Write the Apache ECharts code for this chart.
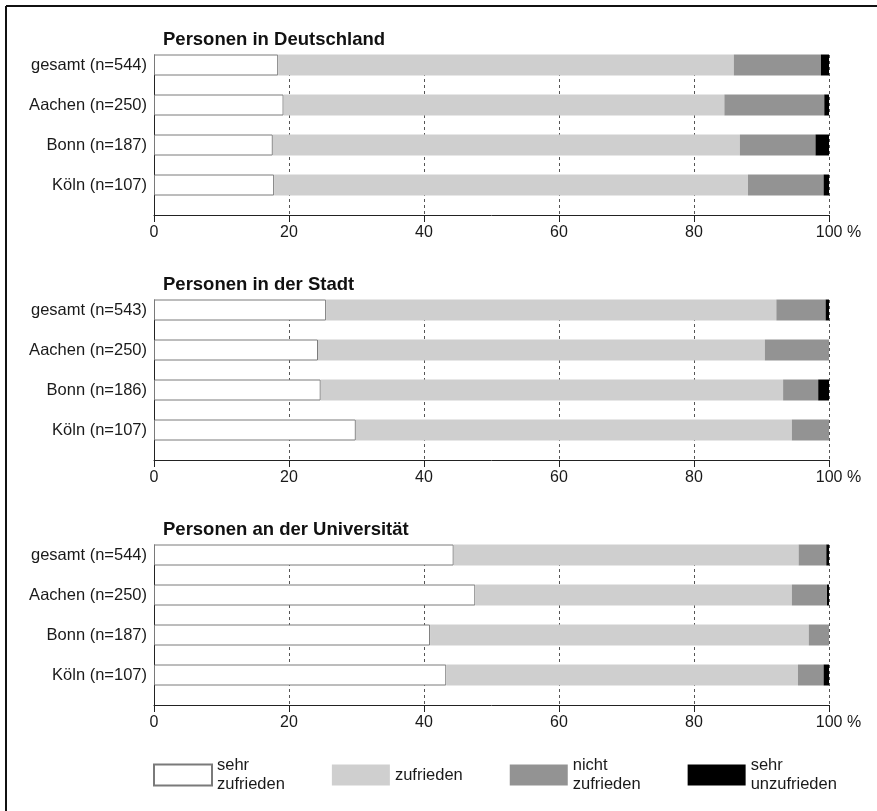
<!DOCTYPE html>
<html>
<head>
<meta charset="utf-8">
<script src="https://cdn.jsdelivr.net/npm/echarts@6/dist/echarts.min.js"></script>
<style>
html,body{margin:0;padding:0;background:#fff;}
#chart{width:877px;height:811px;}
</style>
</head>
<body>
<div id="chart"></div>
<script>
// ---- data ----
const panelTitles = ['Personen in Deutschland', 'Personen in der Stadt', 'Personen an der Universität'];
const levelNames = ['sehr\nzufrieden', 'zufrieden', 'nicht\nzufrieden', 'sehr\nunzufrieden'];
const xTicks = [0, 20, 40, 60, 80, 100];

const catsDeutschland = ['gesamt (n=544)', 'Aachen (n=250)', 'Bonn (n=187)', 'Köln (n=107)'];
const catsStadt = ['gesamt (n=543)', 'Aachen (n=250)', 'Bonn (n=186)', 'Köln (n=107)'];
const catsUni = ['gesamt (n=544)', 'Aachen (n=250)', 'Bonn (n=187)', 'Köln (n=107)'];

const sehrZufriedenDeutschland = [18.4, 19.2, 17.6, 17.8];
const zufriedenDeutschland = [67.5, 65.3, 69.2, 70.2];
const nichtZufriedenDeutschland = [12.9, 14.8, 11.2, 11.2];
const sehrUnzufriedenDeutschland = [1.2, 0.7, 2.0, 0.8];

const sehrZufriedenStadt = [25.5, 24.3, 24.7, 29.9];
const zufriedenStadt = [66.7, 66.2, 68.5, 64.6];
const nichtZufriedenStadt = [7.3, 9.5, 5.2, 5.5];
const sehrUnzufriedenStadt = [0.5, 0, 1.6, 0];

const sehrZufriedenUni = [44.4, 47.6, 40.9, 43.3];
const zufriedenUni = [51.1, 46.9, 56.1, 52.1];
const nichtZufriedenUni = [4.1, 5.2, 3.0, 3.8];
const sehrUnzufriedenUni = [0.4, 0.3, 0, 0.8];

const panels = [
  { cats: catsDeutschland, values: [sehrZufriedenDeutschland, zufriedenDeutschland, nichtZufriedenDeutschland, sehrUnzufriedenDeutschland] },
  { cats: catsStadt, values: [sehrZufriedenStadt, zufriedenStadt, nichtZufriedenStadt, sehrUnzufriedenStadt] },
  { cats: catsUni, values: [sehrZufriedenUni, zufriedenUni, nichtZufriedenUni, sehrUnzufriedenUni] }
];

// ---- styles ----
const fills = ['#ffffff', '#cfcfcf', '#939393', '#000000'];
const FONT = 'Liberation Sans, Arial, sans-serif';
const textColor = '#1a1a1a';
const LEFT = 154, RIGHT = 48, PANEL_TOP = 55, PANEL_STEP = 245, PANEL_H = 160;

const grid = [], xAxis = [], yAxis = [], series = [], title = [];

panels.forEach((p, i) => {
  const T = PANEL_TOP + PANEL_STEP * i;
  grid.push({ left: LEFT, right: RIGHT, top: T, height: PANEL_H });
  grid.push({ left: LEFT, right: RIGHT, top: T - 10, height: PANEL_H });
  const ga = 2 * i, gb = 2 * i + 1;

  xAxis.push({
    gridIndex: ga, type: 'value', min: 0, max: 100, interval: 20,
    axisLine: { show: true, lineStyle: { color: '#222', width: 1 } },
    axisTick: { show: true, length: 7, lineStyle: { color: '#222' } },
    axisLabel: {
      fontFamily: FONT, fontSize: 16, color: textColor, margin: 10,
      formatter: v => v === 100 ? '{pad|}100 %' : (xTicks.indexOf(v) >= 0 ? String(v) : ''),
      rich: { pad: { width: 19, fontSize: 16 } }
    },
    splitLine: { show: true, lineStyle: { color: '#555', type: [3, 3], width: 1 } }
  });
  yAxis.push({
    gridIndex: ga, type: 'value', min: 0, max: 1,
    axisLine: { show: true, lineStyle: { color: '#222', width: 1 } },
    axisTick: { show: false }, axisLabel: { show: false }, splitLine: { show: false }
  });
  xAxis.push({ gridIndex: gb, type: 'value', min: 0, max: 100, show: false });
  yAxis.push({
    gridIndex: gb, type: 'category', data: p.cats, inverse: true,
    axisLine: { show: false }, axisTick: { show: false },
    axisLabel: { fontFamily: FONT, fontSize: 16.5, color: textColor, margin: 7 }
  });

  p.values.forEach((vals, k) => {
    series.push({
      name: levelNames[k], type: 'bar', stack: 'panel' + i,
      xAxisIndex: gb, yAxisIndex: gb, z: 5,
      barWidth: 21, data: vals, silent: true,
      itemStyle: k === 0
        ? { color: fills[k], borderColor: '#7a7a7a', borderWidth: 1 }
        : { color: fills[k], borderWidth: 0 }
    });
  });

  title.push({
    text: panelTitles[i], left: 163, top: T - 25, padding: 0,
    textStyle: { fontFamily: FONT, fontSize: 18.5, fontWeight: 'bold', color: '#111' }
  });
});

const option = {
  animation: false,
  backgroundColor: '#ffffff',
  title: title,
  grid: grid, xAxis: xAxis, yAxis: yAxis, series: series,
  legend: {
    data: levelNames, left: 153, top: 756, padding: 0,
    itemWidth: 58, itemHeight: 21, itemGap: 47, icon: 'rect',
    selectedMode: false,
    textStyle: { fontFamily: FONT, fontSize: 16.5, color: textColor, lineHeight: 19 }
  },
  graphic: [
    { type: 'line', shape: { x1: 6, y1: 6, x2: 877, y2: 6 }, style: { stroke: '#111', lineWidth: 2 } },
    { type: 'line', shape: { x1: 6, y1: 6, x2: 6, y2: 811 }, style: { stroke: '#111', lineWidth: 2 } }
  ]
};

const chart = echarts.init(document.getElementById('chart'), null, { renderer: 'canvas' });
chart.setOption(option);
</script>
</body>
</html>
